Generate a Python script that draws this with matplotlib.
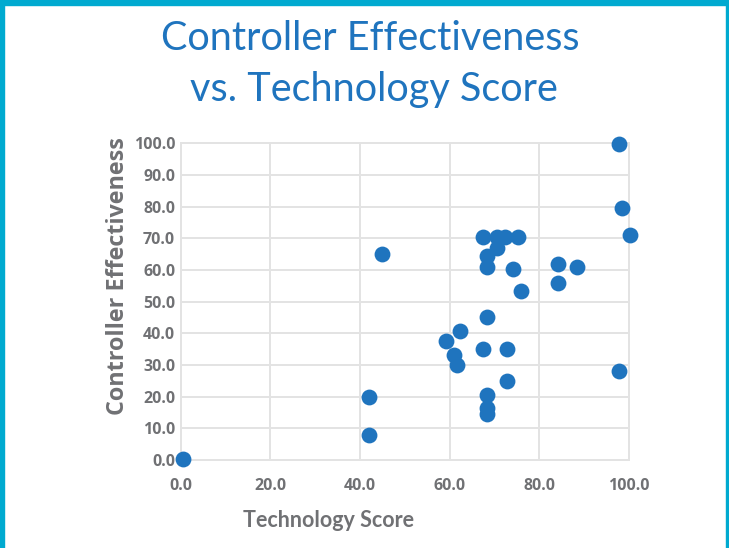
import matplotlib
matplotlib.use("Agg")
import matplotlib.pyplot as plt
from matplotlib.patches import Rectangle

# Technology score vs controller effectiveness
tech_score = [97.8, 98.5, 100.2, 67.5, 70.5, 72.3, 75.3, 70.5, 68.2, 68.2,
              74.1, 84.2, 88.4, 84.2, 75.9, 68.2, 62.2, 59.2, 61.0, 61.6,
              67.5, 72.8, 97.8, 72.8, 68.2, 68.2, 68.2, 44.9, 42.0, 42.0, 0.4]
effectiveness = [99.8, 79.5, 71.0, 70.3, 70.3, 70.3, 70.3, 66.9, 64.4, 61.0,
                 60.2, 61.9, 61.0, 56.0, 53.5, 45.0, 40.8, 37.5, 33.3, 29.9,
                 35.0, 35.0, 28.2, 24.8, 20.6, 16.4, 14.5, 65.0, 19.8, 8.0, 0.3]
ticks = [0, 20, 40, 60, 80, 100]
yticks = [0, 10, 20, 30, 40, 50, 60, 70, 80, 90, 100]

gray = "#707174"
blue = "#1F74BE"
grid_c = "#E3E3E3"

fig = plt.figure(figsize=(7.29, 5.48), dpi=100)
ax = fig.add_axes([0.248, 0.1606, 0.615, 0.578])

ax.scatter(tech_score, effectiveness, s=130, color=blue, zorder=3, clip_on=False, linewidths=0)

ax.set_xlim(0, 100)
ax.set_ylim(0, 100)
ax.set_xticks(ticks)
ax.set_yticks(yticks)
ax.set_xticklabels([f"{t:.1f}" for t in ticks])
ax.set_yticklabels([f"{t:.1f}" for t in yticks])
ax.grid(True, color=grid_c, linewidth=1.4)
ax.set_axisbelow(True)
for s in ax.spines.values():
    s.set_color(grid_c)
    s.set_linewidth(1.4)
ax.tick_params(length=0, colors=gray, labelsize=11.5)
ax.tick_params(axis="x", pad=13)
ax.tick_params(axis="y", pad=4)
for lab in ax.get_xticklabels() + ax.get_yticklabels():
    lab.set_fontfamily("Open Sans")
    lab.set_fontweight("bold")

fig.text(0.451, 0.051, "Technology Score", ha="center", va="center",
         fontsize=15.5, fontweight="bold", color=gray, family="Lato")
fig.text(0.162, 0.497, "Controller Effectiveness", ha="center", va="center",
         rotation=90, fontsize=16.8, fontweight="bold", color=gray, family="Open Sans")

fig.text(0.508, 0.929, "Controller Effectiveness", ha="center", va="center",
         fontsize=28.5, color=blue, family="Lato")
fig.text(0.513, 0.837, "vs. Technology Score", ha="center", va="center",
         fontsize=28.5, color=blue, family="Lato")

# cyan frame on top, left and right
cyan = "#00AAD0"
fig.patches.append(Rectangle((0, 0.99), 1, 0.01, transform=fig.transFigure, color=cyan))
fig.patches.append(Rectangle((0, 0), 0.0055, 1, transform=fig.transFigure, color=cyan))
fig.patches.append(Rectangle((0.9955, 0), 0.0045, 1, transform=fig.transFigure, color=cyan))

fig.savefig("out.png", dpi=100)
